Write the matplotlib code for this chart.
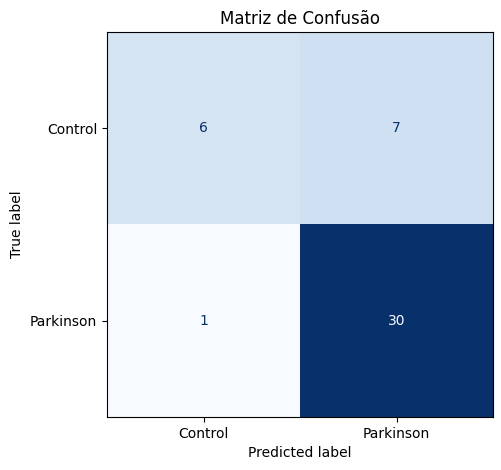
import matplotlib
matplotlib.use('Agg')
import matplotlib.pyplot as plt
import numpy as np

labels = ["Control", "Parkinson"]
cm = np.array([[6, 7],
               [1, 30]])

fig = plt.figure(figsize=(5.01, 4.7), dpi=100)
ax = fig.add_axes([0.2136, 0.1128, 0.7705, 0.819])

cmap = plt.get_cmap("Blues")
ax.imshow(cm, cmap=cmap, interpolation="nearest", aspect="auto")

# text colour like sklearn's ConfusionMatrixDisplay
thresh = (cm.max() + cm.min()) / 2.0
for i in range(cm.shape[0]):
    for j in range(cm.shape[1]):
        color = cmap(1.0) if cm[i, j] < thresh else cmap(0.0)
        ax.text(j, i, str(cm[i, j]), ha="center", va="center", color=color)

ax.set_xticks(range(len(labels)))
ax.set_xticklabels(labels)
ax.set_yticks(range(len(labels)))
ax.set_yticklabels(labels)
ax.set_xlabel("Predicted label")
ax.set_ylabel("True label")
ax.set_title("Matriz de Confusão")

fig.savefig("out.png", dpi=100)
